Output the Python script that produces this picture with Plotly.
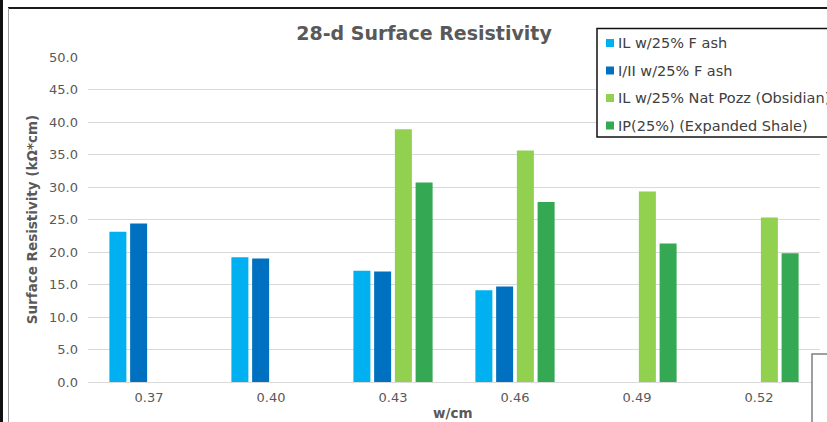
import plotly.graph_objects as go

categories = ["0.37", "0.40", "0.43", "0.46", "0.49", "0.52"]
series_names = [
    "IL w/25% F ash",
    "I/II w/25% F ash",
    "IL w/25% Nat Pozz (Obsidian)",
    "IP(25%) (Expanded Shale)",
]
il_fash = [23.1, 19.2, 17.1, 14.1, None, None]
i_ii_fash = [24.4, 19.0, 17.0, 14.7, None, None]
il_natpozz = [None, None, 38.9, 35.6, 29.3, 25.3]
ip_shale = [None, None, 30.7, 27.7, 21.3, 19.8]
series_values = [il_fash, i_ii_fash, il_natpozz, ip_shale]
colors = ["#00B0F0", "#0070C0", "#92D050", "#34A853"]
y_ticks = [0, 5, 10, 15, 20, 25, 30, 35, 40, 45, 50]

FONT = "DejaVu Sans"
GRAY = "#595959"

W, H = 827, 422
L, R, T, B = 88, 7, 57, 40
PW, PH = W - L - R, H - T - B


def px_x(x):
    return (x - L) / PW


def px_y(y):
    return (H - B - y) / PH


fig = go.Figure()
for name, vals, col in zip(series_names, series_values, colors):
    fig.add_trace(go.Bar(
        x=categories, y=vals, name=name, marker_color=col,
        marker_line_width=0, showlegend=False,
    ))

shapes = [
    # left dark frame edge
    dict(type="rect", xref="paper", yref="paper", x0=px_x(0), x1=px_x(3),
         y0=px_y(430), y1=px_y(-5), fillcolor="#111111", line_width=0, layer="above"),
    # top frame line
    dict(type="line", xref="paper", yref="paper", x0=px_x(8), x1=px_x(830),
         y0=px_y(8), y1=px_y(8), line=dict(color="#1a1a1a", width=2), layer="above"),
    # inner gray left line
    dict(type="line", xref="paper", yref="paper", x0=px_x(8.5), x1=px_x(8.5),
         y0=px_y(8), y1=px_y(430), line=dict(color="#A0A0A0", width=1), layer="above"),
    # bottom-right overlapping box
    dict(type="rect", xref="paper", yref="paper", x0=px_x(812), x1=px_x(835),
         y0=px_y(354), y1=px_y(430), fillcolor="white",
         line=dict(color="#7F7F7F", width=1.5), layer="above"),
    # legend box
    dict(type="rect", xref="paper", yref="paper", x0=px_x(597), x1=px_x(845),
         y0=px_y(137), y1=px_y(28.5), fillcolor="white",
         line=dict(color="#111111", width=1.5), layer="above"),
]

annotations = [
    dict(text="<b>w/cm</b>", xref="paper", yref="paper", x=px_x(452), y=px_y(413),
         xanchor="center", yanchor="middle", showarrow=False,
         font=dict(family=FONT, size=13.5, color=GRAY)),
]

legend_rows = [43, 70.5, 98, 125.5]
for name, col, yc in zip(series_names, colors, legend_rows):
    shapes.append(dict(type="rect", xref="paper", yref="paper",
                       x0=px_x(606), x1=px_x(614), y0=px_y(yc + 4), y1=px_y(yc - 4),
                       fillcolor=col, line_width=0, layer="above"))
    annotations.append(dict(text=name, xref="paper", yref="paper",
                            x=px_x(616), y=px_y(yc), xanchor="left", yanchor="middle",
                            showarrow=False,
                            font=dict(family=FONT, size=14.5, color="#404040")))

fig.update_layout(
    width=W, height=H,
    margin=dict(l=L, r=R, t=T, b=B, autoexpand=False),
    paper_bgcolor="white", plot_bgcolor="white",
    font=dict(family=FONT, color=GRAY, size=13),
    title=dict(text="<b>28-d Surface Resistivity</b>", x=424 / W, xref="container",
               xanchor="center", y=1 - 33 / H, yref="container", yanchor="middle",
               font=dict(family=FONT, size=19, color=GRAY)),
    barmode="group", bargap=0.32, bargroupgap=0.18,
    showlegend=False,
    xaxis=dict(
        type="category", showgrid=False, showline=True, linecolor="#D9D9D9",
        linewidth=1, ticks="", ticklabelstandoff=3,
        tickfont=dict(size=13, color=GRAY), fixedrange=True,
    ),
    yaxis=dict(
        range=[0, 50], tickvals=y_ticks, tickformat=".1f",
        showgrid=True, gridcolor="#D9D9D9", gridwidth=1.2,
        zeroline=True, zerolinecolor="#D9D9D9", zerolinewidth=1.2,
        showline=False, ticks="", ticklabelstandoff=9,
        tickfont=dict(size=13, color=GRAY),
        title=dict(text="<b>Surface Resistivity (kΩ*cm)</b>", standoff=8,
                   font=dict(size=13.5, color=GRAY)),
    ),
    shapes=shapes,
    annotations=annotations,
)

fig.write_html("out.html")
